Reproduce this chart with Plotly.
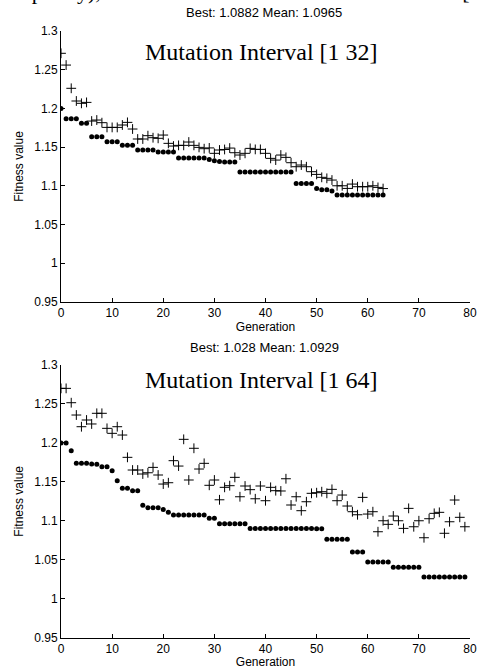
import plotly.graph_objects as go

# ---- data ----
top_best = [1.2000, 1.1867, 1.1867, 1.1867, 1.1807, 1.1807, 1.1635, 1.1635, 1.1635, 1.1570,
            1.1570, 1.1570, 1.1523, 1.1523, 1.1523, 1.1463, 1.1463, 1.1463, 1.1463, 1.1437,
            1.1437, 1.1437, 1.1437, 1.1359, 1.1359, 1.1359, 1.1359, 1.1359, 1.1359, 1.1342,
            1.1325, 1.1316, 1.1308, 1.1308, 1.1308, 1.1178, 1.1178, 1.1178, 1.1178, 1.1178,
            1.1178, 1.1178, 1.1178, 1.1178, 1.1178, 1.1178, 1.1032, 1.1032, 1.1032, 1.1032,
            1.0967, 1.0950, 1.0950, 1.0933, 1.0882, 1.0882, 1.0882, 1.0882, 1.0882, 1.0882,
            1.0882, 1.0882, 1.0882, 1.0882]
top_mean = [1.2712, 1.2560, 1.2260, 1.2096, 1.2066, 1.2078, 1.1837, 1.1850, 1.1816, 1.1755,
            1.1755, 1.1755, 1.1786, 1.1820, 1.1734, 1.1605, 1.1605, 1.1648, 1.1622, 1.1614,
            1.1656, 1.1549, 1.1514, 1.1523, 1.1523, 1.1566, 1.1523, 1.1497, 1.1480, 1.1490,
            1.1420, 1.1463, 1.1470, 1.1488, 1.1428, 1.1398, 1.1420, 1.1484, 1.1471, 1.1471,
            1.1420, 1.1355, 1.1333, 1.1398, 1.1368, 1.1299, 1.1247, 1.1269, 1.1247, 1.1183,
            1.1148, 1.1110, 1.1097, 1.1075, 1.1001, 1.1001, 1.0967, 1.1023, 1.0989, 1.0989,
            1.0989, 1.1001, 1.0980, 1.0965]
bot_best = [1.2000, 1.2000, 1.1900, 1.1738, 1.1738, 1.1738, 1.1730, 1.1725, 1.1695, 1.1695,
            1.1643, 1.1515, 1.1417, 1.1417, 1.1387, 1.1387, 1.1199, 1.1168, 1.1168, 1.1168,
            1.1147, 1.1109, 1.1074, 1.1074, 1.1074, 1.1074, 1.1074, 1.1074, 1.1074, 1.1032,
            1.1032, 1.0963, 1.0963, 1.0963, 1.0963, 1.0963, 1.0963, 1.0903, 1.0903, 1.0903,
            1.0903, 1.0903, 1.0903, 1.0903, 1.0903, 1.0903, 1.0903, 1.0903, 1.0903, 1.0903,
            1.0897, 1.0897, 1.0762, 1.0762, 1.0762, 1.0762, 1.0762, 1.0600, 1.0600, 1.0600,
            1.0471, 1.0471, 1.0471, 1.0471, 1.0471, 1.0403, 1.0403, 1.0403, 1.0403, 1.0403,
            1.0403, 1.0280, 1.0280, 1.0280, 1.0280, 1.0280, 1.0280, 1.0280, 1.0280, 1.0280]
bot_mean = [1.2700, 1.2700, 1.2516, 1.2358, 1.2208, 1.2294, 1.2243, 1.2380, 1.2380, 1.2187,
            1.2123, 1.2208, 1.2101, 1.1815, 1.1652, 1.1652, 1.1601, 1.1617, 1.1686, 1.1588,
            1.1472, 1.1489, 1.1772, 1.1703, 1.2046, 1.1524, 1.1931, 1.1665, 1.1738, 1.1456,
            1.1524, 1.1270, 1.1430, 1.1451, 1.1558, 1.1309, 1.1447, 1.1400, 1.1283, 1.1447,
            1.1258, 1.1430, 1.1387, 1.1383, 1.1540, 1.1203, 1.1309, 1.1130, 1.1245, 1.1353,
            1.1361, 1.1374, 1.1353, 1.1404, 1.1258, 1.1331, 1.1190, 1.1117, 1.1078, 1.1301,
            1.1087, 1.1117, 1.0860, 1.1001, 1.0955, 1.1062, 1.1001, 1.0903, 1.1160, 1.0924,
            1.1001, 1.0783, 1.1027, 1.1096, 1.1109, 1.0840, 1.0988, 1.1267, 1.1045, 1.0924]
top_gen = list(range(len(top_best)))
bot_gen = list(range(len(bot_best)))

x_ticks = [0, 10, 20, 30, 40, 50, 60, 70, 80]
y_ticks = [0.95, 1.0, 1.05, 1.1, 1.15, 1.2, 1.25, 1.3]
y_tick_text = ["0.95", "1", "1.05", "1.1", "1.15", "1.2", "1.25", "1.3"]

top_stats = "Best: 1.0882 Mean: 1.0965"
bot_stats = "Best: 1.028 Mean: 1.0929"
top_title = "Mutation Interval [1 32]"
bot_title = "Mutation Interval [1 64]"
# bottom edge of a text line that lies above the figure (only its descenders show)
cut_texts = ["simplicity),", "["]

SANS = "Liberation Sans, Arial, sans-serif"
SERIF = "Liberation Serif, Times New Roman, serif"
W, H = 480, 669

fig = go.Figure()

def add_pair(gen, best, mean, xa, ya):
    fig.add_trace(go.Scatter(x=gen, y=best, mode="markers", xaxis=xa, yaxis=ya,
                             marker=dict(symbol="circle", size=5, color="black"),
                             showlegend=False, hoverinfo="x+y"))
    fig.add_trace(go.Scatter(x=gen, y=mean, mode="markers", xaxis=xa, yaxis=ya,
                             marker=dict(symbol="cross-thin", size=7, color="black",
                                         line=dict(width=1, color="black")),
                             showlegend=False, hoverinfo="x+y"))

add_pair(top_gen, top_best, top_mean, "x", "y")
add_pair(bot_gen, bot_best, bot_mean, "x2", "y2")

# clipped text strip at the very top (pixel-space helper axes)
fig.add_trace(go.Scatter(x=[0, 466], y=[-7, -7], mode="text", text=cut_texts,
                         textposition=["middle right", "middle center"],
                         textfont=dict(family=SERIF, size=22, color="black"),
                         xaxis="x3", yaxis="y3", showlegend=False, hoverinfo="skip",
                         cliponaxis=True))

axis_common = dict(showline=True, linecolor="black", linewidth=1, ticks="inside",
                   ticklen=4, tickwidth=1, tickcolor="black", showgrid=False,
                   zeroline=False, mirror=False, automargin=False,
                   tickfont=dict(family=SANS, size=12, color="black"))

xcfg = dict(axis_common, range=[0, 80], tickvals=x_ticks,
            title=dict(text="Generation", font=dict(family=SANS, size=12, color="black"), standoff=0))
ycfg = dict(axis_common, range=[0.95, 1.3], tickvals=y_ticks, ticktext=y_tick_text,
            title=dict(text="Fitness value", font=dict(family=SANS, size=12, color="black"), standoff=8))

def fy(py):
    return 1 - py / H

def fx(px):
    return px / W

x_dom = [fx(61), fx(470)]
top_dom = [fy(302), fy(31)]
bot_dom = [fy(637.7), fy(365)]

hidden = dict(visible=False, showgrid=False, zeroline=False, fixedrange=True)

fig.update_layout(
    width=W, height=H,
    margin=dict(l=0, r=0, t=0, b=0, pad=0, autoexpand=False),
    paper_bgcolor="white", plot_bgcolor="rgba(0,0,0,0)",
    xaxis=dict(xcfg, domain=x_dom, anchor="y"),
    yaxis=dict(ycfg, domain=top_dom, anchor="x"),
    xaxis2=dict(xcfg, domain=x_dom, anchor="y2"),
    yaxis2=dict(ycfg, domain=bot_dom, anchor="x2"),
    xaxis3=dict(hidden, domain=[0, 1], range=[0, W], anchor="y3"),
    yaxis3=dict(hidden, domain=[fy(8), 1], range=[8, 0], anchor="x3"),
)

ann = [
    dict(text=top_stats, x=fx(264), y=fy(12), font=dict(family=SANS, size=13)),
    dict(text=top_title, x=fx(261), y=fy(52), font=dict(family=SERIF, size=24)),
    dict(text=bot_stats, x=fx(264), y=fy(347), font=dict(family=SANS, size=13)),
    dict(text=bot_title, x=fx(261), y=fy(380), font=dict(family=SERIF, size=24)),
]
for a in ann:
    a.update(xref="paper", yref="paper", showarrow=False, xanchor="center", yanchor="middle")
    a["font"]["color"] = "black"
    fig.add_annotation(**a)

fig.write_html("out.html", config={"displayModeBar": False},
               post_script="document.body.style.margin='0';")
